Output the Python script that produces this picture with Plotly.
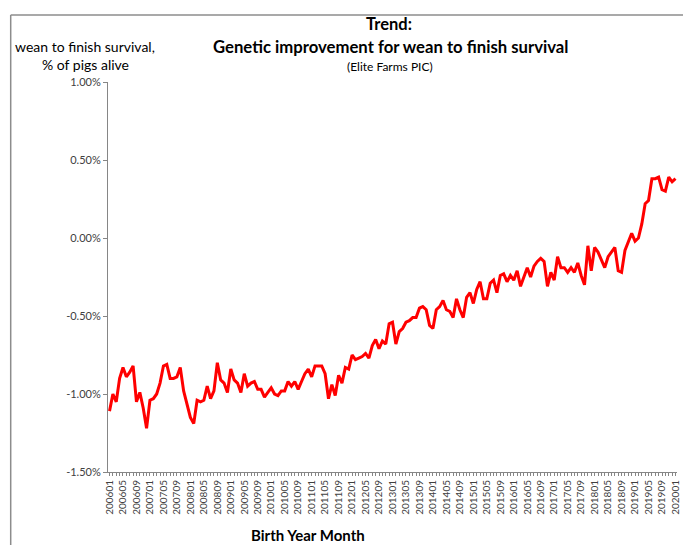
import plotly.graph_objects as go

# birth year-month categories, 200601 .. 202001
months = [f"{y}{m:02d}" for y in range(2006, 2021) for m in range(1, 13)]
months = months[:months.index("202001") + 1]

# genetic trend, % of pigs alive
survival = [
    -1.11, -1.00, -1.05, -0.90, -0.83, -0.89, -0.86, -0.82, -1.05, -0.99,
    -1.09, -1.22, -1.04, -1.03, -1.00, -0.93, -0.82, -0.81, -0.90, -0.90,
    -0.89, -0.83, -0.98, -1.07, -1.15, -1.19, -1.04, -1.05, -1.04, -0.95,
    -1.03, -0.98, -0.80, -0.91, -0.93, -0.99, -0.84, -0.91, -0.93, -0.99,
    -0.87, -0.95, -0.93, -0.92, -0.97, -0.97, -1.02, -0.99, -0.96, -1.00,
    -1.01, -0.98, -0.98, -0.92, -0.95, -0.92, -0.97, -0.92, -0.87, -0.84,
    -0.89, -0.82, -0.82, -0.82, -0.87, -1.03, -0.94, -1.01, -0.88, -0.93,
    -0.83, -0.84, -0.75, -0.78, -0.77, -0.76, -0.74, -0.77, -0.69, -0.65,
    -0.71, -0.66, -0.68, -0.55, -0.54, -0.68, -0.60, -0.58, -0.54, -0.53,
    -0.51, -0.51, -0.45, -0.44, -0.46, -0.56, -0.58, -0.46, -0.44, -0.40,
    -0.46, -0.47, -0.51, -0.39, -0.46, -0.51, -0.38, -0.35, -0.42, -0.33,
    -0.28, -0.39, -0.39, -0.29, -0.27, -0.35, -0.24, -0.23, -0.28, -0.24,
    -0.27, -0.21, -0.31, -0.25, -0.19, -0.25, -0.18, -0.15, -0.13, -0.15,
    -0.31, -0.22, -0.27, -0.12, -0.19, -0.19, -0.22, -0.19, -0.22, -0.16,
    -0.24, -0.30, -0.05, -0.21, -0.06, -0.09, -0.14, -0.19, -0.12, -0.09,
    -0.06, -0.21, -0.22, -0.08, -0.03, 0.03, -0.02, 0.00, 0.09, 0.22,
    0.24, 0.38, 0.38, 0.39, 0.31, 0.30, 0.39, 0.36, 0.38,
]

tick_labels = [m if i % 4 == 0 else "" for i, m in enumerate(months)]
y_ticks = [1.0, 0.5, 0.0, -0.5, -1.0, -1.5]
y_tick_text = [f"{v:.2f}%" for v in y_ticks]

FONT = "Lato, 'Open Sans', sans-serif"
AXIS_GREY = "#868686"
TICK_TEXT = "#404040"
BORDER = "#8C8C8C"

fig = go.Figure()

fig.add_trace(go.Scatter(
    x=months, y=survival,
    mode="lines",
    line=dict(color="#FF0000", width=3),
    showlegend=False,
    hoverinfo="skip",
))

# page body adds an 8px offset, so the figure is 8px smaller than the window
fig.update_layout(
    width=683, height=537,
    paper_bgcolor="white", plot_bgcolor="white",
    margin=dict(l=100, r=10, t=74, b=73),
    font=dict(family=FONT, color=TICK_TEXT, size=11),
)

fig.update_xaxes(
    type="category",
    range=[-0.45, len(months) - 0.55],
    tickmode="array", tickvals=months, ticktext=tick_labels,
    tickangle=-90, tickfont=dict(size=10, color=TICK_TEXT),
    ticks="outside", ticklen=3, tickcolor=AXIS_GREY,
    showline=True, linecolor=AXIS_GREY, linewidth=1,
    showgrid=False, zeroline=False,
)
fig.update_yaxes(
    range=[-1.5, 1.0],
    tickmode="array", tickvals=y_ticks, ticktext=y_tick_text,
    tickfont=dict(size=11, color=TICK_TEXT),
    ticks="outside", ticklen=4, tickcolor=AXIS_GREY,
    showline=True, linecolor=AXIS_GREY, linewidth=1,
    showgrid=False, zeroline=False,
)


def label(x, y, text, size):
    fig.add_annotation(
        xref="paper", yref="paper", x=x, y=y,
        xanchor="center", yanchor="middle",
        text=text, showarrow=False,
        font=dict(family=FONT, size=size, color="black"),
    )


# chart titles and axis captions
label(0.494, 1.149, "<b>Trend:</b>", 16.5)
label(0.496, 1.090, "<b>Genetic improvement for wean to finish survival</b>", 16.7)
label(0.496, 1.041, "(Elite Farms PIC)", 12)
label(-0.040, 1.092, "wean to finish survival,", 14)
label(-0.040, 1.046, "% of pigs alive", 14)
label(0.351, -0.162, "<b>Birth Year Month</b>", 15)

# outer chart border, drawn as separate edges (pixel offsets from the plot area)
left, right, top, bottom = -0.1710, 1.014, 1.172, -0.3
for x0, y0, x1, y1 in [(left, top, right, top), (left, bottom, left, top),
                       (right, bottom, right, top)]:
    fig.add_shape(type="line", xref="paper", yref="paper",
                  x0=x0, y0=y0, x1=x1, y1=y1,
                  line=dict(color=BORDER, width=1.5))

fig.write_html("out.html")
